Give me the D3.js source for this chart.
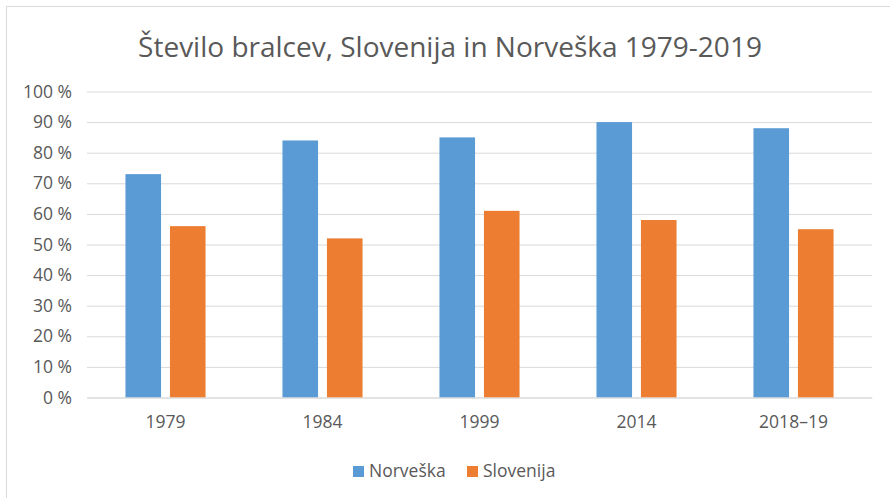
<!DOCTYPE html>
<html>
<head>
<meta charset="utf-8">
<script src="https://cdn.jsdelivr.net/npm/d3@7/dist/d3.min.js"></script>
<style>
  html, body { margin: 0; padding: 0; background: #fff; }
  svg { display: block; }
  text { font-family: "Open Sans", sans-serif; fill: #595959; }
</style>
</head>
<body>
<svg id="chart" width="890" height="498"></svg>
<script>
const title = "Število bralcev, Slovenija in Norveška 1979-2019";
const categories = ["1979", "1984", "1999", "2014", "2018–19"];
const seriesNames = ["Norveška", "Slovenija"];
const norveska = [73, 84, 85, 90, 88];
const slovenija = [56, 52, 61, 58, 55];
const yTicks = [0, 10, 20, 30, 40, 50, 60, 70, 80, 90, 100];
const colors = ["#5B9BD5", "#ED7D31"];

const seriesValues = [norveska, slovenija];
const svg = d3.select("#chart");
const W = 890, H = 498;
const m = { left: 87, right: 872, top: 91.5, bottom: 397.5 };

// outer border
svg.append("rect").attr("x", 6.5).attr("y", 6.5).attr("width", W + 10).attr("height", H + 10)
  .attr("fill", "#fff").attr("stroke", "#d9d9d9").attr("stroke-width", 1);

// title
svg.append("text").attr("x", 450).attr("y", 57).attr("text-anchor", "middle")
  .style("font-size", "28px").text(title);

const x0 = d3.scaleBand().domain(categories).range([m.left, m.right])
  .paddingInner(0.49).paddingOuter(0.245);
const x1 = d3.scaleBand().domain(seriesNames).range([0, x0.bandwidth()]).paddingInner(0.2);
const y = d3.scaleLinear().domain([0, 100]).range([m.bottom, m.top]);

// gridlines
const yAxis = d3.axisLeft(y).tickValues(yTicks).tickSize(-(m.right - m.left))
  .tickPadding(15).tickFormat(d => d + "\u00a0%");
const gy = svg.append("g").attr("transform", `translate(${m.left},0)`).call(yAxis);
gy.select(".domain").remove();
gy.selectAll(".tick line").attr("stroke", "#d9d9d9").attr("stroke-width", 1);
gy.selectAll(".tick text").style("font-size", "17.5px").attr("fill", "#595959").attr("font-family", "Open Sans");

// bars
const groups = svg.append("g").selectAll("g").data(categories).join("g")
  .attr("transform", d => `translate(${x0(d)},0)`);
groups.selectAll("rect").data((c, i) => seriesNames.map((s, j) => ({ s, v: seriesValues[j][i], j })))
  .join("rect")
  .attr("x", d => x1(d.s))
  .attr("width", x1.bandwidth())
  .attr("y", d => y(d.v))
  .attr("height", d => y(0) - y(d.v))
  .attr("fill", d => colors[d.j]);

// x axis
const xAxis = d3.axisBottom(x0).tickSize(0).tickPadding(18);
const gx = svg.append("g").attr("transform", `translate(0,${m.bottom})`).call(xAxis);
gx.select(".domain").attr("stroke", "#d9d9d9").attr("stroke-width", 1);
gx.selectAll(".tick text").style("font-size", "17.5px").attr("fill", "#595959").attr("font-family", "Open Sans");

// legend
const legendX = [353, 467];
const lg = svg.append("g").selectAll("g").data(seriesNames).join("g")
  .attr("transform", (d, i) => `translate(${legendX[i]},466)`);
lg.append("rect").attr("width", 11).attr("height", 11).attr("fill", (d, i) => colors[i]);
lg.append("text").attr("x", 16).attr("y", 11).style("font-size", "17.5px").text(d => d);
</script>
</body>
</html>
